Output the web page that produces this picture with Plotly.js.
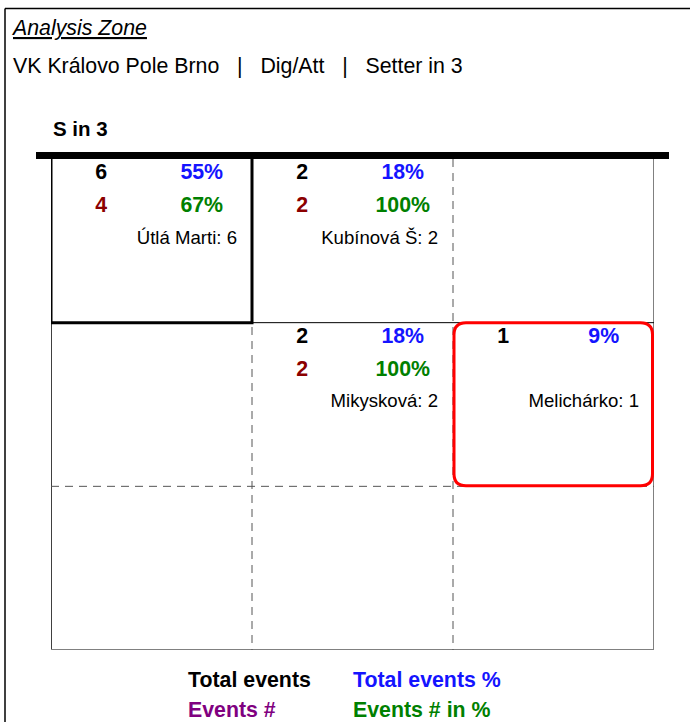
<!DOCTYPE html>
<html>
<head>
<meta charset="utf-8">
<script src="https://cdn.plot.ly/plotly-3.0.1.min.js"></script>
<style>
  html, body { margin: 0; padding: 0; background: #fff; }
  #chart { width: 690px; height: 722px; }
</style>
</head>
<body>
<div id="chart"></div>
<script>
// ---- data ----
const zoneCol = [0, 1, 1, 2];
const zoneRow = [0, 0, 1, 1];
const totalEvents = [6, 2, 2, 1];
const totalPct = [55, 18, 18, 9];
const eventsNum = [4, 2, 2, null];
const eventsPct = [67, 100, 100, null];
const playerNames = ["Útlá Marti", "Kubínová Š", "Mikysková", "Melichárko"];
const playerCounts = [6, 2, 2, 1];
const highlightZone = 0;   // index of the zone with the thick black frame
const selectedZone = 3;    // index of the zone with the red frame
const titleText = "Analysis Zone";
const subtitleParts = ["VK Královo Pole Brno", "Dig/Att", "Setter in 3"];
const courtLabel = "S in 3";
const legendLabels = ["Total events", "Total events %", "Events #", "Events # in %"];

// ---- styling ----
const FONT = "Liberation Sans, Arial, Helvetica, sans-serif";
const C_BLACK = "#000000", C_BLUE = "#1414FF", C_GREEN = "#008000",
      C_DRED = "#8B0000", C_PURPLE = "#800080", C_GRID = "#555555";
const BIG = 21.33, NAME = 18.6;

const L = 51, T = 159, W = 603, H = 491, R = 690 - L - W, B = 722 - T - H;
const px = x => (x - L) / W;            // pixel -> paper x
const py = y => (T + H - y) / H;        // pixel -> paper y
const dx = p => p / (W / 3);            // pixel length -> data x
const dy = p => p / (H / 3);            // pixel length -> data y

function idx(arr) { return arr.map((v, i) => i).filter(i => arr[i] !== null); }

const traces = [];
function textTrace(ids, xOff, yOff, texts, color, size, bold, pos) {
  traces.push({
    type: "scatter", mode: "text",
    x: ids.map(i => zoneCol[i] + xOff),
    y: ids.map(i => zoneRow[i] + yOff),
    text: ids.map(i => texts[i]),
    textposition: pos || "middle center",
    textfont: { family: FONT, size: size, color: color, weight: bold ? "bold" : "normal" },
    hoverinfo: "skip", showlegend: false, cliponaxis: false
  });
}
const all = zoneCol.map((v, i) => i);
textTrace(all, 0.25, dy(15), totalEvents.map(String), C_BLACK, BIG, true);
textTrace(all, 0.75, dy(15), totalPct.map(v => v + "%"), C_BLUE, BIG, true);
textTrace(idx(eventsNum), 0.25, dy(48), eventsNum.map(String), C_DRED, BIG, true);
textTrace(idx(eventsPct), 0.75, dy(48), eventsPct.map(v => v + "%"), C_GREEN, BIG, true);
textTrace(all, 1 - dx(15), dy(80), playerNames.map((n, i) => n + ": " + playerCounts[i]), C_BLACK, NAME, false, "middle left");

// ---- shapes ----
const shapes = [];
// outer frame (left + top)
shapes.push({ type: "line", xref: "paper", yref: "paper", x0: px(5), x1: px(700), y0: py(8.5), y1: py(8.5), line: { color: "#000", width: 1.5 } });
shapes.push({ type: "line", xref: "paper", yref: "paper", x0: px(5), x1: px(5), y0: py(8.5), y1: py(740), line: { color: "#000", width: 1.5 } });
// court border
shapes.push({ type: "line", xref: "x", yref: "y", x0: 0, x1: 0, y0: 0, y1: 3, line: { color: "#000", width: 1.5 } });
shapes.push({ type: "line", xref: "x", yref: "y", x0: 3, x1: 3, y0: 0, y1: 3, line: { color: "#808080", width: 2 } });
shapes.push({ type: "line", xref: "x", yref: "y", x0: 0, x1: 3, y0: 3, y1: 3, line: { color: "#808080", width: 2 } });
// grid
shapes.push({ type: "line", xref: "x", yref: "y", x0: 1, x1: 1, y0: 0, y1: 3, line: { color: C_GRID, width: 1, dash: "8px,6px" } });
shapes.push({ type: "line", xref: "x", yref: "y", x0: 2, x1: 2, y0: 0, y1: 3, line: { color: C_GRID, width: 1, dash: "8px,6px" } });
shapes.push({ type: "line", xref: "x", yref: "y", x0: 0, x1: 3, y0: 1, y1: 1, line: { color: "#000", width: 1 } });
shapes.push({ type: "line", xref: "x", yref: "y", x0: 0, x1: 3, y0: 2, y1: 2, line: { color: C_GRID, width: 1, dash: "8px,6px" } });
// highlighted zone
{
  const c = zoneCol[highlightZone], r = zoneRow[highlightZone];
  shapes.push({ type: "rect", xref: "x", yref: "y", x0: c, x1: c + 1, y0: r - dy(2), y1: r + 1, line: { color: "#000", width: 3 } });
}
// selected zone (rounded red frame)
{
  const c = zoneCol[selectedZone], r = zoneRow[selectedZone];
  const x0 = c + dx(1), x1 = c + 1 - dx(1.5), y0 = r, y1 = r + 1 - dy(0.5);
  const rx = dx(12), ry = dy(12);
  const p = `M ${x0 + rx},${y0} L ${x1 - rx},${y0} Q ${x1},${y0} ${x1},${y0 + ry} L ${x1},${y1 - ry} Q ${x1},${y1} ${x1 - rx},${y1} L ${x0 + rx},${y1} Q ${x0},${y1} ${x0},${y1 - ry} L ${x0},${y0 + ry} Q ${x0},${y0} ${x0 + rx},${y0} Z`;
  shapes.push({ type: "path", xref: "x", yref: "y", path: p, line: { color: "#FF0000", width: 3 } });
}
// net line
shapes.push({ type: "line", xref: "paper", yref: "paper", x0: px(36), x1: px(669), y0: py(155.5), y1: py(155.5), line: { color: "#000", width: 7 } });

// ---- annotations ----
const ann = [];
function A(text, x, y, size, color, extra) {
  ann.push(Object.assign({ text: text, xref: "paper", yref: "paper", x: px(x), y: py(y), xanchor: "left", yanchor: "middle",
    showarrow: false, font: { family: FONT, size: size, color: color } }, extra || {}));
}
A("<i><u>" + titleText + "</u></i>", 9, 28, BIG, "#000");
const sp = "\u00a0\u00a0\u00a0|\u00a0\u00a0\u00a0";
A(subtitleParts.join(sp), 11, 66, BIG, "#000");
A("<b>" + courtLabel + "</b>", 51, 128, 20.5, "#000");
A("<b>" + legendLabels[0] + "</b>", 186, 680, BIG, C_BLACK);
A("<b>" + legendLabels[1] + "</b>", 351, 680, BIG, C_BLUE);
A("<b>" + legendLabels[2] + "</b>", 186, 710, BIG, C_PURPLE);
A("<b>" + legendLabels[3] + "</b>", 351, 710, BIG, C_GREEN);

const layout = {
  width: 690, height: 722,
  margin: { l: L, r: R, t: T, b: B, pad: 0 },
  paper_bgcolor: "#fff", plot_bgcolor: "#fff",
  xaxis: { range: [0, 3], visible: false, fixedrange: true },
  yaxis: { range: [3, 0], visible: false, fixedrange: true },
  showlegend: false,
  shapes: shapes,
  annotations: ann,
  font: { family: FONT }
};
Plotly.newPlot("chart", traces, layout, { displayModeBar: false, staticPlot: true });
</script>
</body>
</html>
